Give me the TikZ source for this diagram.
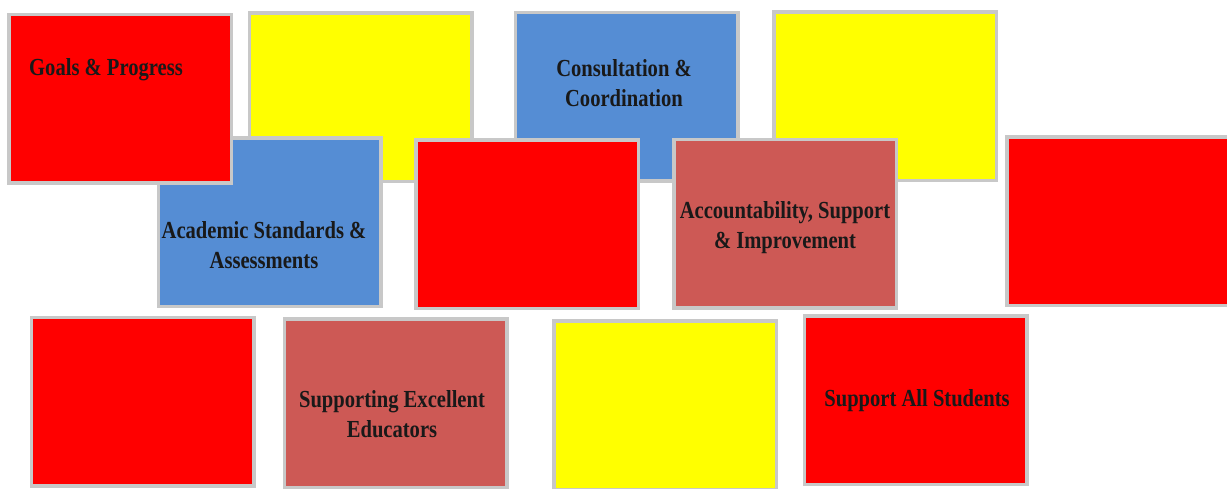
\documentclass[tikz,border=0pt]{standalone}
\usepackage{fontspec}
\newfontfamily\lbfont[FakeStretch=0.84]{Liberation Serif}
\definecolor{bred}{RGB}{255,0,0}
\definecolor{byel}{RGB}{255,255,0}
\definecolor{bblue}{RGB}{85,141,212}
\definecolor{bbrown}{RGB}{205,89,85}
\definecolor{bgray}{RGB}{200,200,200}
\tikzset{
  box/.style={rectangle, inner sep=0pt, draw=bgray, line width=3.5pt,
    minimum width=222.5pt, minimum height=168.5pt,
    path picture={\draw[line width=3.5pt, black, opacity=0.28]
      (path picture bounding box.south west) rectangle (path picture bounding box.north east);}},
  lbl/.style={inner sep=0pt, align=center, text=black!90,
    font=\lbfont\bfseries\fontsize{24.5}{30}\selectfont}
}
\begin{document}
\begin{tikzpicture}[x=1pt,y=-1pt]
\useasboundingbox (0,0) rectangle (1227,489);
\fill[white] (0,0) rectangle (1227,489);
\clip (0,0) rectangle (1227,489);
% row 1 (except Goals)
\node[box, fill=byel] (yel1) at (360.5,97.5) {};
\node[box, fill=bblue] (cons) at (626.5,97) {};
\node[box, fill=byel] (yel2) at (885,96.5) {};
% row 2
\node[box, fill=bblue] (acad) at (269.5,222.5) {};
\node[box, fill=bred] (red2) at (527,224.5) {};
\node[box, fill=bbrown] (acc) at (785,224) {};
\node[box, fill=bred] (red3) at (1118,221.5) {};
% Goals on top
\node[box, fill=bred] (goals) at (120,99) {};
% row 3
\node[box, fill=bred] (redbl) at (142.5,401.5) {};
\node[box, fill=bbrown] (sup) at (395.5,403) {};
\node[box, fill=byel] (yel3) at (665,405) {};
\node[box, fill=bred] (sas) at (915.5,400) {};
% labels
\node[lbl] (tgoals) at (106,70) {Goals \& Progress};
\node[lbl] (tcons) at (624,83) {Consultation \&\\Coordination};
\node[lbl] (tacad) at (264,245) {Academic Standards \&\\Assessments};
\node[lbl] (tacc) at (785,228) {Accountability, Support\\\& Improvement};
\node[lbl] (tsup) at (392,414) {Supporting Excellent\\Educators};
\node[lbl] (tsas) at (917,401) {Support All Students};
\end{tikzpicture}
\end{document}
